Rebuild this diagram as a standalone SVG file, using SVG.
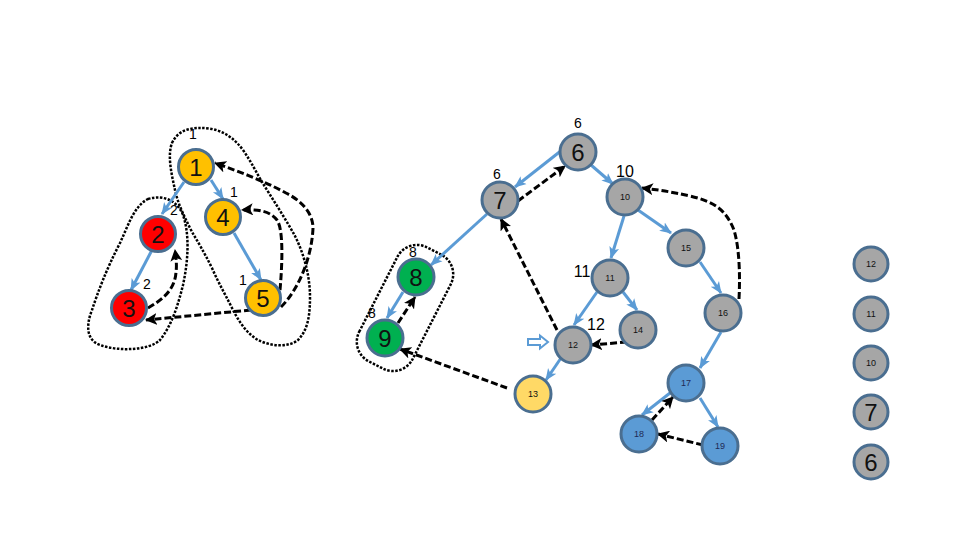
<svg xmlns="http://www.w3.org/2000/svg" width="960" height="540" viewBox="0 0 960 540">
<style>
.n{stroke:#4A6E90;stroke-width:3}
.g{fill:#A6A6A6}.o{fill:#FFC000}.r{fill:#FF0000}.gr{fill:#00B050}.y{fill:#FFD966}.b{fill:#5B9BD5}
.big{font-family:"Liberation Sans",Arial,sans-serif;font-size:24px;text-anchor:middle;fill:#111}
.sm{font-family:"Liberation Sans",Arial,sans-serif;font-size:9px;text-anchor:middle;fill:#111}
.smb{font-family:"Liberation Sans",Arial,sans-serif;font-size:9px;text-anchor:middle;fill:#1F2A55}
.lb{font-family:"Liberation Sans",Arial,sans-serif;font-size:14px;text-anchor:middle;fill:#000}
.lb2{font-family:"Liberation Sans",Arial,sans-serif;font-size:16px;text-anchor:middle;fill:#000}
.bl{fill:none;stroke:#5B9BD5;stroke-width:3;marker-end:url(#ab)}
.dk{fill:none;stroke:#000;stroke-width:3;stroke-dasharray:7 3;marker-end:url(#ak)}
.dt{fill:none;stroke:#000;stroke-width:2.5;stroke-dasharray:2.5 1.5}
</style>
<defs>
<marker id="ab" markerUnits="userSpaceOnUse" markerWidth="12" markerHeight="12" refX="11" refY="6" orient="auto"><path d="M0,1 L12,6 L0,11 L3,6 z" fill="#5B9BD5"/></marker>
<marker id="ak" markerUnits="userSpaceOnUse" markerWidth="12" markerHeight="12" refX="11" refY="6" orient="auto"><path d="M0,0 L12,6 L0,12 L3,6 z" fill="#000"/></marker>
</defs>
<rect width="960" height="540" fill="#fff"/>

<g id="loops">
<path class="dt" d="M172,143 C178,130 190,128 200,128 C212,128 228,130 243,150 C252,163 256,172 262,182 C272,198 285,218 295,236 C304,254 310,276 310,297 C310,315 308,330 298,340 C288,348 270,346 258,340 C246,333 238,320 232,308 C224,292 218,282 212,268 C204,252 198,242 192,232 C184,216 178,204 175,190 C172,176 167,156 172,143 Z"/>
<path class="dt" d="M148,199 C165,194 178,202 183,215 C190,235 188,262 183,285 C178,305 172,325 160,340 C150,350 120,352 100,345 C86,340 86,325 92,310 C98,292 106,270 120,243 C128,226 134,206 148,199 Z"/>
<rect class="dt" x="-64" y="-30" width="128" height="60" rx="22" transform="translate(405,308) rotate(-63)"/>
</g>

<g id="connectors">
<line class="bl" x1="184" y1="182" x2="162" y2="214"/>
<line class="bl" x1="211" y1="180" x2="223" y2="199"/>
<line class="bl" x1="234" y1="233" x2="261" y2="280"/>
<line class="bl" x1="152" y1="250" x2="131" y2="290"/>
<path class="dk" d="M251,310 L146,320"/>
<path class="dk" d="M148,308 C162,300 175,290 176,272 C177,265 176,258 175,250"/>
<path class="dk" d="M280,290 C282,268 284,230 277,220 C270,211 258,209 242,210"/>
<path class="dk" d="M281,307 C300,288 312,255 313,228 C313,212 300,200 286,193 C262,180 240,172 215,163"/>

<line class="bl" x1="562" y1="150" x2="515" y2="187"/>
<path class="dk" d="M518,201 L565,166"/>
<line class="bl" x1="591" y1="165" x2="613" y2="184"/>
<line class="bl" x1="487" y1="214" x2="431" y2="265"/>
<line class="bl" x1="403" y1="292" x2="387" y2="318"/>
<path class="dk" d="M398,323 L415,297"/>
<path class="dk" d="M557,330 L501,219"/>
<path class="dk" d="M507,388 L400,349"/>
<line class="bl" x1="624" y1="216" x2="611" y2="258"/>
<line class="bl" x1="638" y1="210" x2="671" y2="233"/>
<line class="bl" x1="597" y1="292" x2="574" y2="325"/>
<line class="bl" x1="623" y1="292" x2="637" y2="310"/>
<path class="dk" d="M627,342 L591,345"/>
<line class="bl" x1="561" y1="358" x2="546" y2="380"/>
<line class="bl" x1="700" y1="262" x2="721" y2="293"/>
<path class="dk" d="M739,299 C740,280 740,250 734,230 C726,210 715,202 690,196 C672,192 660,190 642,188"/>
<line class="bl" x1="721" y1="332" x2="700" y2="368"/>
<line class="bl" x1="670" y1="393" x2="642" y2="415"/>
<path class="dk" d="M652,420 L673,397"/>
<line class="bl" x1="700" y1="398" x2="718" y2="427"/>
<path class="dk" d="M703,445 L658,434"/>
<path d="M528,339 L540,339 L540,335.5 L548,342 L540,348.5 L540,345 L528,345 Z" fill="#fff" stroke="#5B9BD5" stroke-width="2"/>
</g>

<g id="n1"><circle class="n o" cx="196" cy="167" r="17.5"/><text class="big" x="196" y="176">1</text></g>
<g id="n4"><circle class="n o" cx="223" cy="217" r="17.5"/><text class="big" x="223" y="226">4</text></g>
<g id="n2"><circle class="n r" cx="158" cy="234" r="17.5"/><text class="big" x="158" y="243">2</text></g>
<g id="n3"><circle class="n r" cx="129" cy="308" r="17.5"/><text class="big" x="129" y="317">3</text></g>
<g id="n5"><circle class="n o" cx="263" cy="298" r="17.5"/><text class="big" x="263" y="307">5</text></g>

<g id="n6"><circle class="n g" cx="578" cy="152" r="18"/><text class="big" x="578" y="161">6</text></g>
<g id="n7"><circle class="n g" cx="500" cy="200" r="18"/><text class="big" x="500" y="209">7</text></g>
<g id="n8"><circle class="n gr" cx="416" cy="277" r="18"/><text class="big" x="416" y="286">8</text></g>
<g id="n9"><circle class="n gr" cx="385" cy="338" r="18"/><text class="big" x="385" y="347">9</text></g>
<g id="n10"><circle class="n g" cx="625" cy="197" r="18"/><text class="sm" x="625" y="200">10</text></g>
<g id="n15"><circle class="n g" cx="686" cy="248" r="18"/><text class="sm" x="686" y="251">15</text></g>
<g id="n11"><circle class="n g" cx="610" cy="278" r="18"/><text class="sm" x="610" y="281">11</text></g>
<g id="n16"><circle class="n g" cx="723" cy="313" r="18"/><text class="sm" x="723" y="316">16</text></g>
<g id="n14"><circle class="n g" cx="638" cy="330" r="18"/><text class="sm" x="638" y="333">14</text></g>
<g id="n12"><circle class="n g" cx="573" cy="345" r="18"/><text class="sm" x="573" y="348">12</text></g>
<g id="n13"><circle class="n y" cx="533" cy="394" r="18"/><text class="sm" x="533" y="397">13</text></g>
<g id="n17"><circle class="n b" cx="686" cy="383" r="18"/><text class="smb" x="686" y="386">17</text></g>
<g id="n18"><circle class="n b" cx="639" cy="434" r="18"/><text class="smb" x="639" y="437">18</text></g>
<g id="n19"><circle class="n b" cx="720" cy="446" r="18"/><text class="smb" x="720" y="449">19</text></g>

<g id="s12"><circle class="n g" cx="871" cy="264" r="17"/><text class="sm" x="871" y="267">12</text></g>
<g id="s11"><circle class="n g" cx="871" cy="314" r="17"/><text class="sm" x="871" y="317">11</text></g>
<g id="s10"><circle class="n g" cx="871" cy="363" r="17"/><text class="sm" x="871" y="366">10</text></g>
<g id="s7"><circle class="n g" cx="871" cy="412" r="17"/><text class="big" x="871" y="421">7</text></g>
<g id="s6"><circle class="n g" cx="871" cy="462" r="17"/><text class="big" x="871" y="471">6</text></g>

<g id="labels">
<text class="lb" x="193" y="139">1</text>
<text class="lb" x="234" y="197">1</text>
<text class="lb" x="174" y="215">2</text>
<text class="lb" x="147" y="289">2</text>
<text class="lb" x="243" y="285">1</text>
<text class="lb" x="578" y="128">6</text>
<text class="lb" x="497" y="179">6</text>
<text class="lb2" x="625" y="177">10</text>
<text class="lb2" x="582" y="277">11</text>
<text class="lb2" x="596" y="330">12</text>
<text class="lb" x="413" y="257">8</text>
<text class="lb" x="372" y="318">8</text>
</g>
</svg>
